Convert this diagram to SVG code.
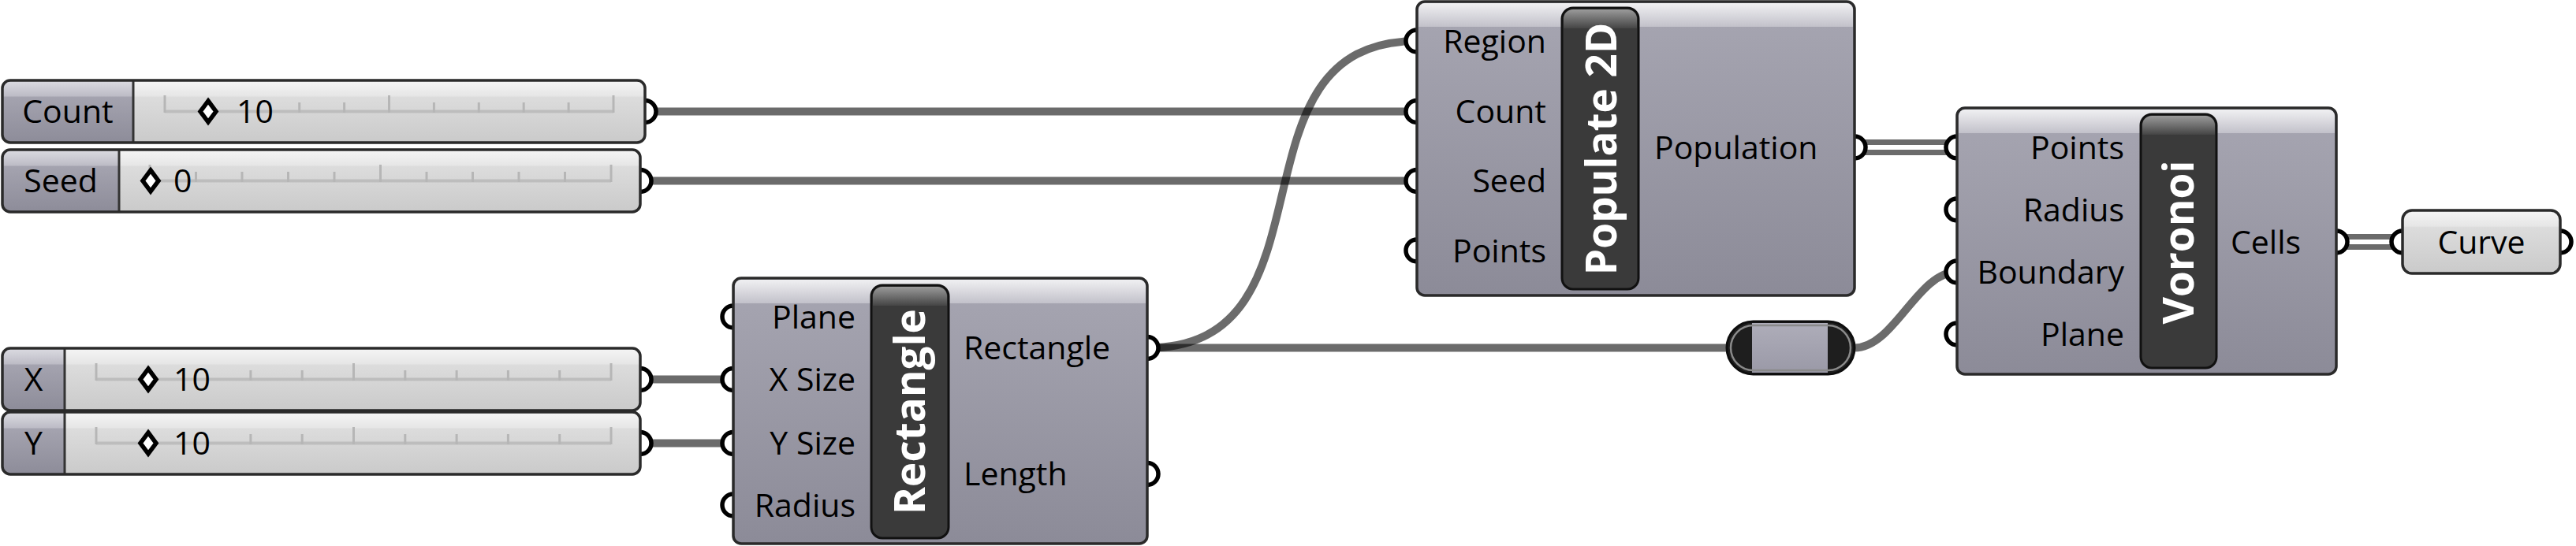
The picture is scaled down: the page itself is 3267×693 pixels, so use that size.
<svg xmlns="http://www.w3.org/2000/svg" width="3267" height="693" viewBox="0 0 3267 693">
<defs>
  <linearGradient id="gBody" x1="0" y1="0" x2="0" y2="1">
    <stop offset="0" stop-color="#a7a6b2"/><stop offset="1" stop-color="#8c8b98"/>
  </linearGradient>
  <linearGradient id="gStrip" x1="0" y1="0" x2="0" y2="1">
    <stop offset="0" stop-color="#f0f0f2"/><stop offset="1" stop-color="#c2c1ca"/>
  </linearGradient>
  <linearGradient id="gSlider" x1="0" y1="0" x2="0" y2="1">
    <stop offset="0" stop-color="#f5f5f5"/><stop offset="0.25" stop-color="#e6e6e6"/>
    <stop offset="0.27" stop-color="#dcdcdc"/><stop offset="1" stop-color="#cacaca"/>
  </linearGradient>
  <linearGradient id="gLabel" x1="0" y1="0" x2="0" y2="1">
    <stop offset="0" stop-color="#dcdce2"/><stop offset="0.25" stop-color="#bdbcc6"/>
    <stop offset="0.27" stop-color="#a4a3af"/><stop offset="1" stop-color="#8d8c99"/>
  </linearGradient>
  <linearGradient id="gBarTop" x1="0" y1="0" x2="0" y2="1">
    <stop offset="0" stop-color="#9a9a9a"/><stop offset="1" stop-color="#454545"/>
  </linearGradient>
  <linearGradient id="gRelayMid" x1="0" y1="0" x2="0" y2="1">
    <stop offset="0" stop-color="#aeadb9"/><stop offset="1" stop-color="#9a99a7"/>
  </linearGradient>
</defs>
<style>
  .wire{fill:none;stroke:#000;stroke-opacity:.58;stroke-width:10}
  .wire2{fill:none;stroke:#6b6b6b;stroke-width:20}
  .wire2i{fill:none;stroke:#fff;stroke-width:6}
  .grip{fill:#fff;stroke:#000;stroke-width:5.5}
  .border{fill:none;stroke:#2a2a2a;stroke-width:3.5}
  .body{fill:url(#gBody)}
  .strip{fill:url(#gStrip)}
  .lbl{font-family:"Open Sans","Noto Sans",sans-serif;font-size:41px;fill:#000}
  .r{text-anchor:end}
  .c{text-anchor:middle}
  .ttl{font-family:"Open Sans","Noto Sans",sans-serif;font-weight:bold;font-size:53px;fill:#fff;text-anchor:middle}
  .bar{fill:#3a3a3a;stroke:#111;stroke-width:3}
  .bartop{fill:url(#gBarTop)}
  .sbody{fill:url(#gSlider)}
  .slabel{fill:url(#gLabel)}
  .div{stroke:#333;stroke-width:3}
  .track{stroke:#bdbdbd;stroke-width:4}
  .tick{stroke:#b6b6b6;stroke-width:3}
  .dia{fill:#fff;stroke:#000;stroke-width:5.5}
</style>

<g id="connectors">
  <path class="wire" d="M818,141.5 H1797"/>
  <path class="wire" d="M812,229.5 H1797"/>
  <path class="wire" d="M812,481.5 H930"/>
  <path class="wire" d="M812,562.5 H930"/>
  <path class="wire" d="M1455,441.5 C1705,441.5 1547,52 1797,52"/>
  <path class="wire" d="M1455,441.5 H2190"/>
  <path class="wire" d="M2352,441.5 C2402,441.5 2432,345 2482,345"/>
  <path class="wire2" d="M2352,187 H2482"/>
  <path class="wire2i" d="M2352,187 H2482"/>
  <path class="wire2" d="M2963,307 H3047"/>
  <path class="wire2i" d="M2963,307 H3047"/>
</g>

<g id="slider-count">
  <circle class="grip" cx="818" cy="141.5" r="14"/>
  <rect class="sbody" x="3" y="102" width="815" height="79" rx="10"/>
  <path class="slabel" d="M169,102 H13 A10,10 0 0 0 3,112 V171 A10,10 0 0 0 13,181 H169 Z"/>
  <line class="div" x1="169" y1="102" x2="169" y2="181"/>
  <rect class="border" x="3" y="102" width="815" height="79" rx="10"/>
  <line class="track" x1="209" y1="141.5" x2="778" y2="141.5"/>
  <g class="tick">
    <line x1="209" y1="121" x2="209" y2="143"/>
    <line x1="265.9" y1="130" x2="265.9" y2="143"/>
    <line x1="379.7" y1="130" x2="379.7" y2="143"/>
    <line x1="436.6" y1="130" x2="436.6" y2="143"/>
    <line x1="493.5" y1="121" x2="493.5" y2="143"/>
    <line x1="550.4" y1="130" x2="550.4" y2="143"/>
    <line x1="607.3" y1="130" x2="607.3" y2="143"/>
    <line x1="664.2" y1="130" x2="664.2" y2="143"/>
    <line x1="721.1" y1="130" x2="721.1" y2="143"/>
    <line x1="778" y1="121" x2="778" y2="143"/>
  </g>
  <polygon class="dia" points="264,128 274,141.5 264,155 254,141.5"/>
  <text class="lbl c" x="86" y="156">Count</text>
  <text class="lbl" x="300" y="156">10</text>
</g>

<g id="slider-seed">
  <circle class="grip" cx="812" cy="229.5" r="14"/>
  <rect class="sbody" x="3" y="190" width="809" height="79" rx="10"/>
  <path class="slabel" d="M151,190 H13 A10,10 0 0 0 3,200 V259 A10,10 0 0 0 13,269 H151 Z"/>
  <line class="div" x1="151" y1="190" x2="151" y2="269"/>
  <rect class="border" x="3" y="190" width="809" height="79" rx="10"/>
  <line class="track" x1="190" y1="229.5" x2="775" y2="229.5"/>
  <g class="tick">
    <line x1="190" y1="209" x2="190" y2="231"/>
    <line x1="248.5" y1="218" x2="248.5" y2="231"/>
    <line x1="307" y1="218" x2="307" y2="231"/>
    <line x1="365.5" y1="218" x2="365.5" y2="231"/>
    <line x1="424" y1="218" x2="424" y2="231"/>
    <line x1="482.5" y1="209" x2="482.5" y2="231"/>
    <line x1="541" y1="218" x2="541" y2="231"/>
    <line x1="599.5" y1="218" x2="599.5" y2="231"/>
    <line x1="658" y1="218" x2="658" y2="231"/>
    <line x1="716.5" y1="218" x2="716.5" y2="231"/>
    <line x1="775" y1="209" x2="775" y2="231"/>
  </g>
  <polygon class="dia" points="191,216 201,229.5 191,243 181,229.5"/>
  <text class="lbl c" x="77" y="244">Seed</text>
  <text class="lbl" x="220" y="244">0</text>
</g>

<g id="slider-x">
  <circle class="grip" cx="812" cy="481.5" r="14"/>
  <rect class="sbody" x="3" y="442" width="809" height="79" rx="10"/>
  <path class="slabel" d="M82,442 H13 A10,10 0 0 0 3,452 V511 A10,10 0 0 0 13,521 H82 Z"/>
  <line class="div" x1="82" y1="442" x2="82" y2="521"/>
  <rect class="border" x="3" y="442" width="809" height="79" rx="10"/>
  <line class="track" x1="122" y1="481.5" x2="775" y2="481.5"/>
  <g class="tick">
    <line x1="122" y1="461" x2="122" y2="483"/>
    <line x1="187.3" y1="470" x2="187.3" y2="483"/>
    <line x1="317.9" y1="470" x2="317.9" y2="483"/>
    <line x1="383.2" y1="470" x2="383.2" y2="483"/>
    <line x1="448.5" y1="461" x2="448.5" y2="483"/>
    <line x1="513.8" y1="470" x2="513.8" y2="483"/>
    <line x1="579.1" y1="470" x2="579.1" y2="483"/>
    <line x1="644.4" y1="470" x2="644.4" y2="483"/>
    <line x1="709.7" y1="470" x2="709.7" y2="483"/>
    <line x1="775" y1="461" x2="775" y2="483"/>
  </g>
  <polygon class="dia" points="188,468 198,481.5 188,495 178,481.5"/>
  <text class="lbl c" x="42.5" y="496">X</text>
  <text class="lbl" x="220" y="496">10</text>
</g>

<g id="slider-y">
  <circle class="grip" cx="812" cy="562.5" r="14"/>
  <rect class="sbody" x="3" y="523" width="809" height="79" rx="10"/>
  <path class="slabel" d="M82,523 H13 A10,10 0 0 0 3,533 V592 A10,10 0 0 0 13,602 H82 Z"/>
  <line class="div" x1="82" y1="523" x2="82" y2="602"/>
  <rect class="border" x="3" y="523" width="809" height="79" rx="10"/>
  <line class="track" x1="122" y1="562.5" x2="775" y2="562.5"/>
  <g class="tick">
    <line x1="122" y1="542" x2="122" y2="564"/>
    <line x1="187.3" y1="551" x2="187.3" y2="564"/>
    <line x1="317.9" y1="551" x2="317.9" y2="564"/>
    <line x1="383.2" y1="551" x2="383.2" y2="564"/>
    <line x1="448.5" y1="542" x2="448.5" y2="564"/>
    <line x1="513.8" y1="551" x2="513.8" y2="564"/>
    <line x1="579.1" y1="551" x2="579.1" y2="564"/>
    <line x1="644.4" y1="551" x2="644.4" y2="564"/>
    <line x1="709.7" y1="551" x2="709.7" y2="564"/>
    <line x1="775" y1="542" x2="775" y2="564"/>
  </g>
  <polygon class="dia" points="188,549 198,562.5 188,576 178,562.5"/>
  <text class="lbl c" x="42.5" y="577">Y</text>
  <text class="lbl" x="220" y="577">10</text>
</g>

<g id="rectangle">
  <circle class="grip" cx="930" cy="402" r="14"/>
  <circle class="grip" cx="930" cy="481.5" r="14"/>
  <circle class="grip" cx="930" cy="562.5" r="14"/>
  <circle class="grip" cx="930" cy="641" r="14"/>
  <circle class="grip" cx="1455" cy="441.5" r="14"/>
  <circle class="grip" cx="1455" cy="601.5" r="14"/>
  <rect class="body" x="930" y="353" width="525" height="337" rx="10"/>
  <path class="strip" d="M932,385 V363 A8,8 0 0 1 940,355 H1445 A8,8 0 0 1 1453,363 V385 Z"/>
  <rect class="border" x="930" y="353" width="525" height="337" rx="10"/>
  <text class="lbl r" x="1085" y="416.5">Plane</text>
  <text class="lbl r" x="1085" y="496">X Size</text>
  <text class="lbl r" x="1085" y="577">Y Size</text>
  <text class="lbl r" x="1085" y="655.5">Radius</text>
  <rect class="bar" x="1105" y="362" width="98" height="321" rx="14"/>
  <path class="bartop" d="M1107,388 V376 A12,12 0 0 1 1119,364 H1189 A12,12 0 0 1 1201,376 V388 Z"/>
  <text class="ttl" transform="translate(1173,522.5) rotate(-90)">Rectangle</text>
  <text class="lbl" x="1222" y="456">Rectangle</text>
  <text class="lbl" x="1222" y="616">Length</text>
</g>

<g id="populate2d">
  <circle class="grip" cx="1797" cy="52" r="14"/>
  <circle class="grip" cx="1797" cy="141.5" r="14"/>
  <circle class="grip" cx="1797" cy="229.5" r="14"/>
  <circle class="grip" cx="1797" cy="318" r="14"/>
  <circle class="grip" cx="2352" cy="187" r="14"/>
  <rect class="body" x="1797" y="2" width="555" height="373" rx="10"/>
  <path class="strip" d="M1799,34 V12 A8,8 0 0 1 1807,4 H2342 A8,8 0 0 1 2350,12 V34 Z"/>
  <rect class="border" x="1797" y="2" width="555" height="373" rx="10"/>
  <text class="lbl r" x="1961" y="66.5">Region</text>
  <text class="lbl r" x="1961" y="156">Count</text>
  <text class="lbl r" x="1961" y="244">Seed</text>
  <text class="lbl r" x="1961" y="332.5">Points</text>
  <rect class="bar" x="1981" y="10" width="97" height="357" rx="14"/>
  <path class="bartop" d="M1983,36 V24 A12,12 0 0 1 1995,12 H2064 A12,12 0 0 1 2076,24 V36 Z"/>
  <text class="ttl" transform="translate(2050,189) rotate(-90)">Populate 2D</text>
  <text class="lbl" x="2098" y="201.5">Population</text>
</g>

<g id="voronoi">
  <circle class="grip" cx="2482" cy="187" r="14"/>
  <circle class="grip" cx="2482" cy="266" r="14"/>
  <circle class="grip" cx="2482" cy="345" r="14"/>
  <circle class="grip" cx="2482" cy="424" r="14"/>
  <circle class="grip" cx="2963" cy="307" r="14"/>
  <rect class="body" x="2482" y="137" width="481" height="338" rx="10"/>
  <path class="strip" d="M2484,169 V147 A8,8 0 0 1 2492,139 H2953 A8,8 0 0 1 2961,147 V169 Z"/>
  <rect class="border" x="2482" y="137" width="481" height="338" rx="10"/>
  <text class="lbl r" x="2694" y="201.5">Points</text>
  <text class="lbl r" x="2694" y="280.5">Radius</text>
  <text class="lbl r" x="2694" y="359.5">Boundary</text>
  <text class="lbl r" x="2694" y="438.5">Plane</text>
  <rect class="bar" x="2715" y="145" width="96" height="322" rx="14"/>
  <path class="bartop" d="M2717,171 V159 A12,12 0 0 1 2729,147 H2797 A12,12 0 0 1 2809,159 V171 Z"/>
  <text class="ttl" transform="translate(2782,307.5) rotate(-90)">Voronoi</text>
  <text class="lbl" x="2829" y="321.5">Cells</text>
</g>

<g id="relay">
  <rect x="2190" y="408" width="162" height="67" rx="33.5" fill="#1e1e1e" stroke="#0d0d0d" stroke-width="3"/>
  <rect x="2222" y="410" width="96" height="63" fill="url(#gRelayMid)"/>
  <rect x="2195" y="413" width="152" height="57" rx="28.5" fill="none" stroke="#8a8a8a" stroke-width="2.5"/>
</g>

<g id="curve">
  <circle class="grip" cx="3047" cy="307" r="14"/>
  <circle class="grip" cx="3247" cy="307" r="14"/>
  <rect class="sbody" x="3047" y="267" width="200" height="80" rx="12"/>
  <rect class="border" x="3047" y="267" width="200" height="80" rx="12"/>
  <text class="lbl c" x="3147" y="321.5">Curve</text>
</g>
</svg>
